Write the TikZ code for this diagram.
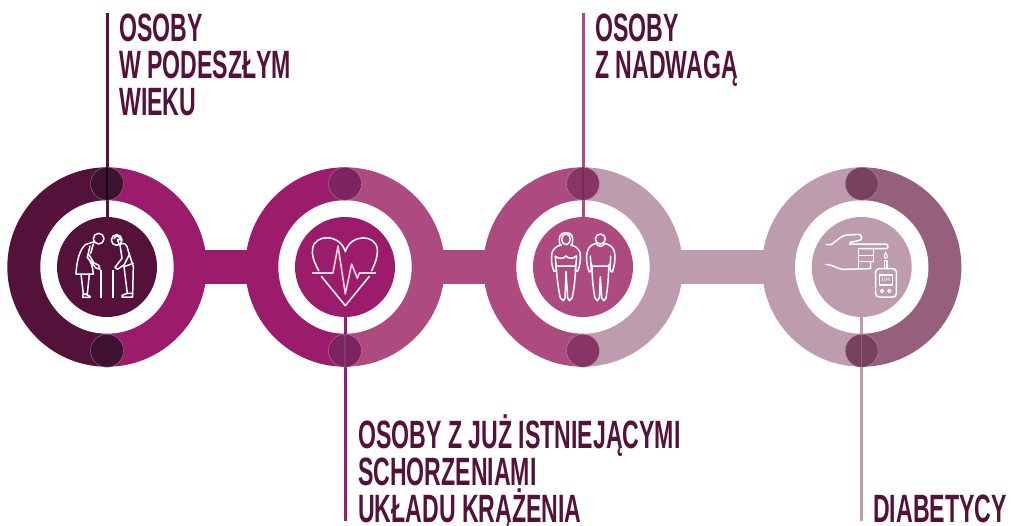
\documentclass[tikz,border=0pt]{standalone}
\usepackage{fontspec}
\newfontfamily\labfont[FakeStretch=0.585]{Liberation Sans}
\definecolor{cdark}{HTML}{54123A}
\definecolor{cmag}{HTML}{9B1C6A}
\definecolor{cmid}{HTML}{AD4B80}
\definecolor{cpale}{HTML}{BD9CAE}
\definecolor{cmauve}{HTML}{96607C}
\definecolor{dotA}{HTML}{3E1230}
\definecolor{dotB}{HTML}{7C2360}
\definecolor{dotC}{HTML}{873564}
\definecolor{dotD}{HTML}{7A4060}
\tikzset{
 lab/.style={inner sep=0pt,anchor=base west,text=cdark,font=\labfont\bfseries\fontsize{39.5}{37}\selectfont,align=left},
 disc/.style={circle,inner sep=0pt,minimum size=100pt,draw=none},
 dotn/.style={circle,inner sep=0pt,minimum size=33pt,draw=white!50!#1,line width=.3pt,fill=#1},
 lead/.style={line width=3pt,draw=#1},
 ico/.style={draw=white,line width=1.5pt,line join=round,line cap=round,fill=none},
 band/.style={line width=33.4pt,draw=#1},
 iconzoom/.style={x=.33333pt,y=-.33333pt}
}
\newcommand{\halves}[3]{% x, left colour, right colour
 \begin{scope}\clip (#1-110,150) rectangle (#1,380); \fill[#2] (#1,267) circle[radius=99.7];\end{scope}
 \begin{scope}\clip (#1,150) rectangle (#1+110,380); \fill[#3] (#1,267) circle[radius=99.7];\end{scope}
 \fill[white] (#1,267) circle[radius=66.7];
}
\begin{document}
\begin{tikzpicture}[x=1pt,y=-1pt]
\useasboundingbox (0,0) rectangle (1011,525);
\coordinate (p1) at (107,267);
\coordinate (p2) at (345,267);
\coordinate (p3) at (583,267);
\coordinate (p4) at (861.7,267);
% bands
\draw[band=cmag] (p1) -- (p2);
\draw[band=cmid] (p2) -- (p3);
\draw[band=cpale] (p3) -- (p4);
\halves{107}{cdark}{cmag}
\halves{345}{cmag}{cmid}
\halves{583}{cmid}{cpale}
\halves{861.7}{cpale}{cmauve}
% discs
\node[disc,fill=cdark] (d1) at (p1) {};
\node[disc,fill=cmag] (d2) at (p2) {};
\node[disc,fill=cmid] (d3) at (p3) {};
\node[disc,fill=cpale] (d4) at (p4) {};
% label anchors
\coordinate (t1) at (107,13);
\coordinate (t2) at (345,521);
\coordinate (t3) at (583,13);
\coordinate (t4) at (861.7,521);
% leaders
\draw[lead=cdark] (t1) -- (d1.north);
\draw[lead=cmag] (d2.south) -- (t2);
\draw[lead=cmid] (t3) -- (d3.north);
\draw[lead=cpale] (d4.south) -- (t4);
% small dots
\node[dotn=dotA] (a1) at (107,183.7) {};
\node[dotn=dotA] (b1) at (107,350.7) {};
\node[dotn=dotB] (a2) at (345,183.7) {};
\node[dotn=dotB] (b2) at (345,350.7) {};
\node[dotn=dotC] (a3) at (583,183.7) {};
\node[dotn=dotC] (b3) at (583,350.7) {};
\node[dotn=dotD] (a4) at (861.7,183.7) {};
\node[dotn=dotD] (b4) at (861.7,350.7) {};
% thin leader traces inside the dots
\draw[line width=1.4pt,draw=black!70!dotA] (a1.north) -- (a1.south);
\draw[line width=1.4pt,draw=black!25!dotB!70!cpale] (b2.north) -- (b2.south);
\draw[line width=1.4pt,draw=black!15!dotC] (a3.north) -- (a3.south);
\draw[line width=1.4pt,draw=cmauve] (b4.north) -- (b4.south);
% elderly icon
\begin{scope}[shift={(0,150)},iconzoom]
 \draw[ico] (296,266) circle[radius=16];
 \draw[ico] (283,275) -- (256,284) .. controls (238,300) and (230,335) .. (228,372) -- (280,372) .. controls (278,350) and (274,335) .. (262,322);
 \draw[ico] (270,288) -- (262,322) -- (288,354) -- (300,358) -- (296,346) -- (281,338) -- (266,312);
 \draw[ico] (280,282) -- (272,310);
 \draw[ico] (243,372) -- (250,432) -- (262,432) -- (268,372);
 \draw[ico] (249,433) -- (258,433) -- (270,439) -- (270,442) -- (248,442) -- cycle;
 \draw[ico,line width=2pt,line cap=butt] (302,360) -- (302,443);
 \draw[ico] (350,270) circle[radius=16];
 \draw[ico] (342,266) .. controls (345,256) and (358,256) .. (365,270) -- (352,268) -- (358,284) ;
 \draw[ico] (360,284) .. controls (372,274) and (382,285) .. (384,300) -- (400,350) -- (398,432);
 \draw[ico] (360,284) -- (366,325) -- (345,352) -- (352,358) -- (372,345) -- (388,314);
 \draw[ico] (372,350) -- (400,340);
 \draw[ico] (372,350) -- (382,430);
 \draw[ico] (366,441) -- (398,441) -- (398,430) -- (382,430) -- (366,436) -- cycle;
 \draw[ico,line width=2pt,line cap=butt] (339,360) -- (339,443);
\end{scope}
% heart icon
\begin{scope}[shift={(240,150)},iconzoom]
 \draw[ico] (236,362) .. controls (222,335) and (214,315) .. (218,295) .. controls (224,252) and (300,250) .. (316,305) .. controls (332,250) and (408,252) .. (412,298) .. controls (414,320) and (405,340) .. (395,362);
 \draw[ico] (244,379) -- (316,467) -- (388,379);
 \draw[ico,draw=white!80!cmag,line width=1.6pt] (217,369) -- (279,369) -- (294,288) -- (316,432) -- (335,342) -- (352,385) -- (358,369) -- (407,369);
\end{scope}
% people icon
\begin{scope}[shift={(480,150)},iconzoom]
 \draw[ico] (258,268) ellipse[x radius=13,y radius=16];
 \draw[ico] (240,284) .. controls (234,262) and (240,248) .. (258,248) .. controls (276,248) and (282,262) .. (276,284);
 \draw[ico] (244,285) .. controls (232,288) and (222,292) .. (216,308) .. controls (212,330) and (216,350) .. (222,364) -- (229,362) -- (226,318);
 \draw[ico] (272,285) .. controls (284,288) and (294,292) .. (300,308) .. controls (304,330) and (298,350) .. (293,364) -- (286,362) -- (290,318);
 \draw[ico] (228,320) .. controls (238,328) and (252,326) .. (258,318) .. controls (264,326) and (280,328) .. (288,318);
 \draw[ico] (228,340) -- (229,348) -- (287,348) -- (288,340);
 \draw[ico] (229,348) .. controls (230,385) and (236,420) .. (241,444) -- (250,452) -- (255,444) -- (258,365) -- (263,444) -- (268,452) -- (276,444) .. controls (282,420) and (286,385) .. (287,348);
 \draw[ico] (361,267) circle[radius=15];
 \draw[ico] (348,280) .. controls (338,283) and (326,288) .. (322,305) .. controls (316,330) and (322,350) .. (328,366) -- (334,362) -- (331,318);
 \draw[ico] (374,280) .. controls (386,283) and (400,290) .. (403,305) .. controls (408,330) and (402,350) .. (397,366) -- (390,362) -- (392,318);
 \draw[ico] (348,280) .. controls (355,292) and (368,292) .. (374,280);
 \draw[ico] (334,342) -- (336,348) -- (386,348) -- (388,342);
 \draw[ico] (336,348) .. controls (336,385) and (340,420) .. (345,444) -- (352,452) -- (358,444) -- (361,380) -- (365,444) -- (372,452) -- (378,444) .. controls (382,420) and (386,385) .. (386,348);
\end{scope}
% hand + meter icon
\begin{scope}[shift={(750,150)},iconzoom]
 \draw[ico] (228,284) -- (243,284) .. controls (262,272) and (270,258) .. (290,255) -- (326,253) .. controls (338,255) and (338,270) .. (326,272) -- (300,277);
 \draw[ico] (298,282) -- (408,282) .. controls (416,284) and (416,294) .. (408,296) -- (326,296);
 \draw[ico] (370,297) -- (370,316) -- (326,316);
 \draw[ico] (370,316) -- (370,335) -- (326,335);
 \draw[ico] (362,337) -- (362,356) -- (280,358) .. controls (262,358) and (250,344) .. (228,343);
 \draw[ico] (326,300) -- (326,356);
 \draw[ico,line width=1pt] (407,308) .. controls (403,316) and (401,318) .. (402,321) .. controls (404,327) and (410,327) .. (412,321) .. controls (413,318) and (411,316) .. (407,308) -- cycle;
 \draw[ico] (403,356) -- (403,331) -- (411,331) -- (411,356);
 \draw[ico] (388,356) -- (428,356) .. controls (435,356) and (439,360) .. (439,367) -- (439,430) .. controls (439,437) and (435,441) .. (428,441) -- (388,441) .. controls (381,441) and (377,437) .. (377,430) -- (377,367) .. controls (377,360) and (381,356) .. (388,356) -- cycle;
 \draw[ico,line width=1.2pt] (388,375) rectangle (428,405);
 \node[inner sep=0pt,text=white,font=\fontspec{Liberation Sans}\fontsize{5.5}{6}\selectfont] (reading) at (407,389) {104};
 \draw[ico,line width=1.2pt] (396,423) circle[radius=5];
 \draw[ico,line width=1.2pt] (418,423) circle[radius=5];
\end{scope}
% labels
\node[lab] (l1) at (119,115) {OSOBY\\W PODESZŁYM\\WIEKU};
\node[lab] (l3) at (595,78) {OSOBY\\Z NADWAGĄ};
\node[lab] (l2) at (358,522) {OSOBY Z JUŻ ISTNIEJĄCYMI\\SCHORZENIAMI\\UKŁADU KRĄŻENIA};
\node[lab] (l4) at (873,522) {DIABETYCY};
\end{tikzpicture}
\end{document}
